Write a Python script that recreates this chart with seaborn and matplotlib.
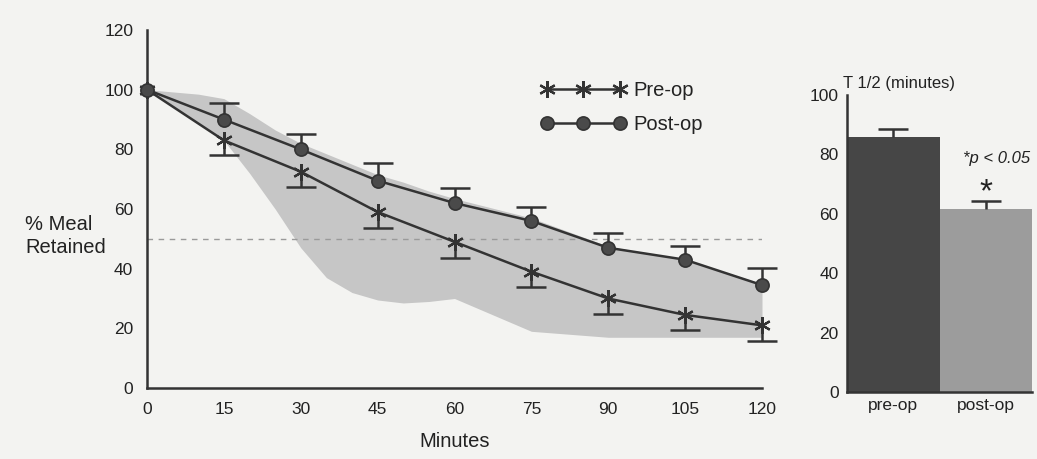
import numpy as np
import pandas as pd
import matplotlib
matplotlib.use("Agg")
import matplotlib.pyplot as plt
import seaborn as sns

# Gastric emptying: % meal retained over time
minutes = [0, 15, 30, 45, 60, 75, 90, 105, 120]
pre_op = [100, 83, 72.5, 59, 49, 39, 30, 24.5, 21]
pre_op_err = [0, 5, 5, 5.3, 5.4, 5.1, 5.2, 5, 5.2]
post_op = [100, 90, 80, 69.5, 62, 56, 47, 43, 34.5]
post_op_err = [0, 5.5, 5.2, 6, 5, 4.7, 5, 4.6, 5.7]

# Normal range band
band_t = [0, 10, 15, 20, 25, 30, 35, 40, 45, 50, 55, 60, 75, 90, 105, 120]
band_lo = [100, 89, 83, 72, 60, 47, 37, 32, 29.5, 28.5, 29, 30, 19, 17, 17, 17]
band_hi = [100, 98.5, 97, 92, 86.5, 82, 78.5, 75, 71.5, 69, 66, 63.5, 57, 47.5, 43, 35]

# Half-emptying time
groups = ["pre-op", "post-op"]
t_half = [86, 61.5]
t_half_err = [2.6, 2.8]

sns.set_theme(style="white")
plt.rcParams["font.family"] = ["Liberation Sans", "DejaVu Sans"]

ink = "#333333"
txt = "#222222"
bg = "#f3f3f1"


def one_sided_bar(axis, xs, ys, errs, direction, cap_pt):
    """Draw error bars that extend only up (+1) or down (-1) with a single cap."""
    ends = [y + direction * e for y, e in zip(ys, errs)]
    axis.vlines(xs, ys, ends, color=ink, lw=1.8, zorder=2, clip_on=False)
    axis.plot(xs, ends, ls="none", marker="_", markersize=cap_pt,
              markeredgewidth=1.8, color=ink, zorder=2, clip_on=False)


fig = plt.figure(figsize=(10.37, 4.59), dpi=100, facecolor=bg)

# ---- Left panel: retention curves ----
ax = fig.add_axes([0.1418, 0.1547, 0.5930, 0.7799])
ax.set_facecolor("none")
ax.fill_between(band_t, band_lo, band_hi, color="#c6c6c6", linewidth=0, zorder=1)
ax.plot([0, 120], [50, 50], ls=(0, (4, 4)), color="#9a9a9a", lw=1.0, zorder=1.5)

df = pd.DataFrame({
    "Minutes": minutes * 2,
    "Retained": pre_op + post_op,
    "Group": ["Pre-op"] * len(minutes) + ["Post-op"] * len(minutes),
})

one_sided_bar(ax, minutes[1:], pre_op[1:], pre_op_err[1:], -1, 21)
one_sided_bar(ax, minutes[1:], post_op[1:], post_op_err[1:], +1, 21)

sns.lineplot(data=df[df.Group == "Pre-op"], x="Minutes", y="Retained", ax=ax,
             color=ink, lw=1.8, marker=(6, 2, 0), markersize=12,
             markeredgewidth=1.6, markeredgecolor=ink, label="Pre-op", zorder=3,
             clip_on=False)
sns.lineplot(data=df[df.Group == "Post-op"], x="Minutes", y="Retained", ax=ax,
             color=ink, lw=1.8, marker="o", markersize=9.5,
             markerfacecolor="#4a4a4a", markeredgecolor=ink, markeredgewidth=1.2,
             label="Post-op", zorder=3, clip_on=False)

ax.set_xlim(0, 120)
ax.set_ylim(0, 120)
ax.set_xticks(minutes)
ax.set_yticks(range(0, 121, 20))
ax.margins(0)
for s in ["top", "right"]:
    ax.spines[s].set_visible(False)
for s in ["left", "bottom"]:
    ax.spines[s].set_color(ink)
    ax.spines[s].set_linewidth(1.8)
ax.tick_params(axis="both", direction="in", length=5, width=0.8, color="#aaaaaa",
               labelsize=12.5, labelcolor=txt)
ax.tick_params(axis="y", pad=10)
ax.tick_params(axis="x", pad=10)
ax.set_xlabel("Minutes", fontsize=14.5, color=txt, labelpad=11)
ax.set_ylabel("")
fig.text(0.024, 0.486, "% Meal\nRetained", fontsize=14.5, color=txt,
         ha="left", va="center", linespacing=1.25)

leg = ax.legend(loc="upper left", bbox_to_anchor=(0.512, 0.845),
                bbox_transform=fig.transFigure, frameon=False, numpoints=3,
                handlelength=4.2, fontsize=14.5, labelspacing=0.75,
                handletextpad=0.4, borderpad=0)
for t in leg.get_texts():
    t.set_color(txt)

# ---- Right panel: T 1/2 bars ----
bx = fig.add_axes([0.8168, 0.146, 0.1784, 0.647])
bx.set_facecolor("none")
bdf = pd.DataFrame({"Group": groups, "T": t_half})
sns.barplot(data=bdf, x="Group", y="T", hue="Group", ax=bx,
            palette=["#464646", "#9c9c9c"], width=1.0, legend=False,
            linewidth=0, saturation=1)
one_sided_bar(bx, [0, 1], t_half, t_half_err, +1, 22)
bx.set_xlim(-0.5, 1.5)
bx.set_ylim(0, 100)
bx.set_yticks(range(0, 101, 20))
bx.set_xlabel("")
bx.set_ylabel("")
for s in ["top", "right"]:
    bx.spines[s].set_visible(False)
for s in ["left", "bottom"]:
    bx.spines[s].set_color(ink)
    bx.spines[s].set_linewidth(1.8)
bx.tick_params(axis="both", length=0, labelsize=12.5, labelcolor=txt)
bx.tick_params(axis="y", pad=6)
bx.tick_params(axis="x", pad=4)
bx.text(-0.54, 101.5, "T 1/2 (minutes)", fontsize=12, color=txt,
        ha="left", va="bottom")
bx.text(1.12, 78.7, "*p < 0.05", fontsize=12, style="italic", color=txt,
        ha="center", va="center")
bx.text(1.0, 67, "*", fontsize=24, color=txt, ha="center", va="center")

fig.savefig("out.png", dpi=100, facecolor=bg)
